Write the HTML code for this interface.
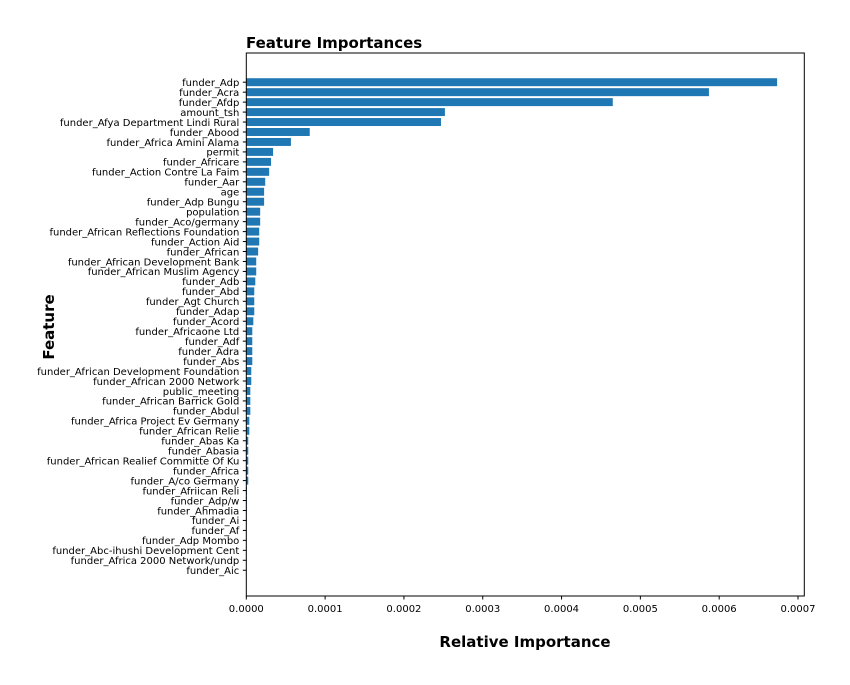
<!DOCTYPE html>
<html><head><meta charset="utf-8"><style>
html,body{margin:0;padding:0;background:#fff;}
svg{display:block;font-family:"DejaVu Sans","Liberation Sans",sans-serif;}
</style></head><body>
<svg id="chart" width="850" height="685" viewBox="0 0 850 685">
<rect x="0" y="0" width="850" height="685" fill="#fff"/>
<text x="246" y="48" font-size="15" font-weight="bold">Feature Importances</text>
<text x="525" y="647" font-size="15" font-weight="bold" text-anchor="middle">Relative Importance</text>
<text transform="translate(54,327) rotate(-90)" font-size="15" font-weight="bold" text-anchor="middle">Feature</text>
<g id="bars"></g>
<g id="yticks"></g>
<g id="xticks"></g>
<rect x="246.3" y="53" width="558" height="543" fill="none" stroke="#000" stroke-width="1"/>
</svg>
<script>
const features = ["funder_Adp","funder_Acra","funder_Afdp","amount_tsh","funder_Afya Department Lindi Rural","funder_Abood","funder_Africa Amini Alama","permit","funder_Africare","funder_Action Contre La Faim","funder_Aar","age","funder_Adp Bungu","population","funder_Aco/germany","funder_African Reflections Foundation","funder_Action Aid","funder_African","funder_African Development Bank","funder_African Muslim Agency","funder_Adb","funder_Abd","funder_Agt Church","funder_Adap","funder_Acord","funder_Africaone Ltd","funder_Adf","funder_Adra","funder_Abs","funder_African Development Foundation","funder_African 2000 Network","public_meeting","funder_African Barrick Gold","funder_Abdul","funder_Africa Project Ev Germany","funder_African Relie","funder_Abas Ka","funder_Abasia","funder_African Realief Committe Of Ku","funder_Africa","funder_A/co Germany","funder_Afriican Reli","funder_Adp/w","funder_Ahmadia","funder_Ai","funder_Af","funder_Adp Mombo","funder_Abc-ihushi Development Cent","funder_Africa 2000 Network/undp","funder_Aic"];
const importances = [0.0006735,0.000587,0.000465,0.000252,0.000247,0.0000805,0.0000566,0.000034,0.0000314,0.000029,0.000024,0.0000226,0.0000226,0.0000176,0.0000176,0.0000164,0.0000164,0.000015,0.0000126,0.0000126,0.0000114,0.0000101,0.0000101,0.0000101,0.0000089,0.0000076,0.0000076,0.0000076,0.0000076,0.0000063,0.0000063,0.0000051,0.0000051,0.0000051,0.0000038,0.0000038,0.0000025,0.0000025,0.0000025,0.0000025,0.0000025,0.0000008,0.0000006,0.0000005,0.0000004,0.0000003,0.0000002,0.0000001,0.0000001,0.0];
const xTicks = [0,0.0001,0.0002,0.0003,0.0004,0.0005,0.0006,0.0007];
const xTickLabels = ["0.0000","0.0001","0.0002","0.0003","0.0004","0.0005","0.0006","0.0007"];

const NS="http://www.w3.org/2000/svg";
const L=246.3, R=804.3, T=53, B=596, XMAX=0.000708;
const n=features.length;
const unit=9.96, y0=82.2;
function xs(v){return L+(v/XMAX)*(R-L);}
function ys(i){return y0+i*unit;}
const gb=document.getElementById('bars'), gy=document.getElementById('yticks'), gx=document.getElementById('xticks');
features.forEach((f,i)=>{
  const r=document.createElementNS(NS,'rect');
  r.setAttribute('x',xs(0));r.setAttribute('y',ys(i)-0.4*unit);
  r.setAttribute('width',Math.max(0,xs(importances[i])-xs(0)));r.setAttribute('height',0.8*unit);
  r.setAttribute('fill','#1f77b4');
  
  
  gb.appendChild(r);
  const t=document.createElementNS(NS,'line');
  t.setAttribute('x1',L-3.5);t.setAttribute('x2',L);t.setAttribute('y1',ys(i));t.setAttribute('y2',ys(i));t.setAttribute('stroke','#000');
  
  
  gy.appendChild(t);
  const tx=document.createElementNS(NS,'text');
  tx.setAttribute('x',L-7);tx.setAttribute('y',ys(i)+3.8);tx.setAttribute('text-anchor','end');tx.setAttribute('font-size','10');
  tx.textContent=f;
  
  
  gy.appendChild(tx);
});
xTicks.forEach((v,i)=>{
  const t=document.createElementNS(NS,'line');
  t.setAttribute('x1',xs(v));t.setAttribute('x2',xs(v));t.setAttribute('y1',B);t.setAttribute('y2',B+3.5);t.setAttribute('stroke','#000');
  
  
  gx.appendChild(t);
  const tx=document.createElementNS(NS,'text');
  tx.setAttribute('x',xs(v));tx.setAttribute('y',B+16);tx.setAttribute('text-anchor','middle');tx.setAttribute('font-size','10');
  tx.textContent=xTickLabels[i];
  
  
  gx.appendChild(tx);
});
</script>
</body></html>
